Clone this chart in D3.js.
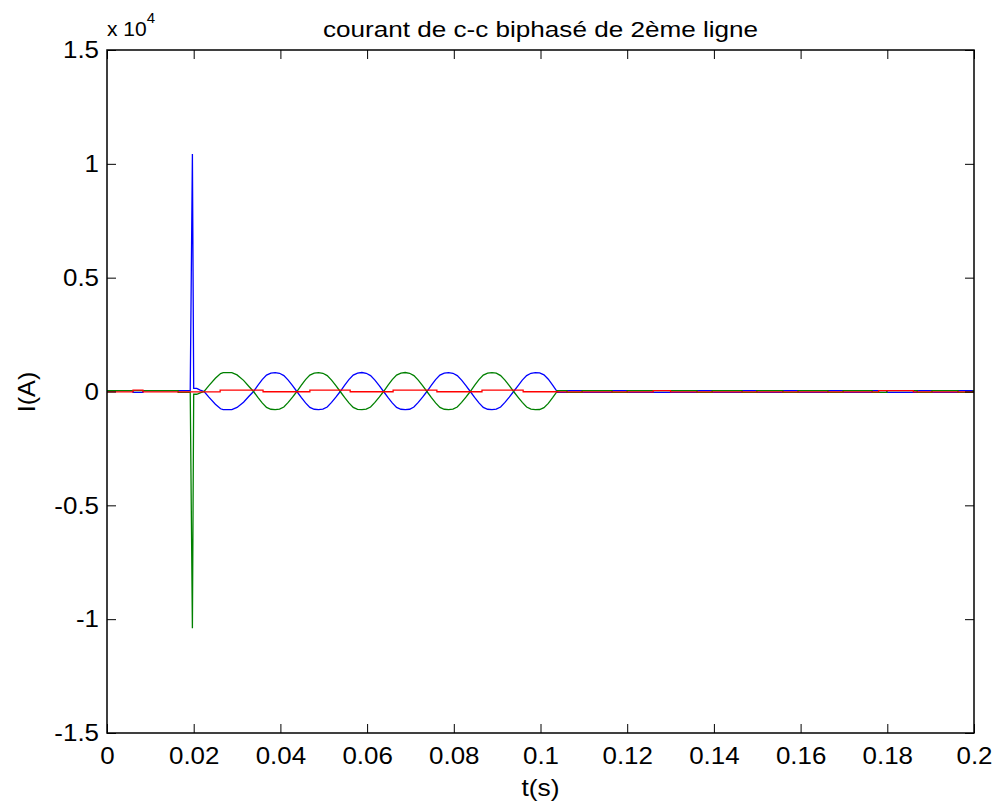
<!DOCTYPE html>
<html><head><meta charset="utf-8">
<script src="https://cdn.jsdelivr.net/npm/d3@7"></script>
<style>body{margin:0;background:#fff}svg{display:block}text{font-family:"Liberation Sans",Arial,sans-serif;fill:#000}</style>
</head><body><svg id="c" width="1001" height="807"></svg>
<script>
// ---- data (A, s) ----
const titleText = "courant de c-c biphasé de 2ème ligne";
const xTickValues = [0,0.02,0.04,0.06,0.08,0.1,0.12,0.14,0.16,0.18,0.2];
const xTickLabels = ["0","0.02","0.04","0.06","0.08","0.1","0.12","0.14","0.16","0.18","0.2"];
const yTickValues = [-15000,-10000,-5000,0,5000,10000,15000];
const yTickLabels = ["-1.5","-1","-0.5","0","0.5","1","1.5"];

// pre-fault, spike and first lobe (irregular samples)
const blueT = [0,0.0060,0.0060,0.0083,0.0083,0.0192,0.0197,0.0200,0.0207,0.0215,0.0224,0.0235,0.0250,0.0262,0.0268,0.0288,0.0300,0.0315,0.0328];
const blueV = [40,40,-35,-35,40,40,10430,140,140,60,0,-250,-560,-760,-800,-800,-700,-470,-200];
const greenT = [0,0.0164,0.0164,0.0192,0.0197,0.0200,0.0207,0.0215,0.0224,0.0235,0.0250,0.0262,0.0268,0.0288,0.0300,0.0315,0.0328];
const greenV = [40,40,-35,-35,-10400,-120,-120,-60,0,260,580,790,830,830,730,490,210];

// oscillation samples, every 1 ms from 0.0338 s
const oscStart = 0.0338, oscStep = 0.001;
const blueOsc = [0,270,520,720,810,830,800,700,500,260,
                 0,-260,-500,-700,-780,-800,-775,-680,-480,-250,
                 0,270,520,720,805,835,800,700,500,260,
                 0,-260,-500,-700,-780,-800,-780,-680,-480,-250,
                 0,270,520,720,810,830,800,700,500,260,
                 0,-260,-500,-700,-780,-800,-775,-680,-480,-250,
                 0,250,500,700,800,830,820,730,540,280,0];
const greenOsc = [0,-260,-500,-700,-780,-800,-775,-680,-480,-250,
                  0,270,520,720,810,830,800,700,500,260,
                  0,-260,-500,-700,-785,-800,-775,-680,-480,-250,
                  0,270,520,720,805,835,800,700,500,260,
                  0,-260,-500,-700,-780,-800,-775,-680,-480,-250,
                  0,270,520,720,805,830,805,700,500,260,
                  0,-245,-480,-680,-770,-800,-790,-710,-520,-270,0];

// post-fault steps
const blueStepT = [0.1038,0.1061,0.1096,0.1165,0.1200,0.1361,0.1396,0.1465,0.1499,0.1559,0.1594,0.1663,0.1698,0.1765,0.1799,0.1869,0.1903,0.1963,0.1998,0.2];
const blueStepV = [-35,40,-35,40,-35,40,-35,40,-35,40,-35,40,-35,40,-35,40,-35,40,-35,-35];
const greenStepT = [0.1038,0.1061,0.1096,0.1165,0.1200,0.1361,0.1396,0.1465,0.1499,0.1559,0.1594,0.1663,0.1698,0.1765,0.1799,0.1869,0.1903,0.1963,0.1998,0.2];
const greenStepV = [40,-35,40,-35,40,-35,40,-35,40,-35,40,-35,40,-35,40,-35,40,-35,40,40];

// red: small steps over the whole record
const redT = [0,0.0060,0.0083,0.0261,0.0360,0.0468,0.0561,0.0660,0.0761,0.0865,0.0960,0.1040,0.1260,0.1300,0.1780,0.1860,0.2];
const redV = [-20,60,-20,60,-10,60,-10,60,-10,60,-10,-20,40,-20,40,-20,-20];

// ---- layout ----
const L=107,R=974,T=50,B=733;
const svg=d3.select("#c");
const x=d3.scaleLinear().domain([0,0.2]).range([L,R]);
const y=d3.scaleLinear().domain([-15000,15000]).range([B,T]);

function build(t,v,oscV,st,sv){
  const pts=t.map((d,i)=>[d,v[i]]);
  oscV.forEach((d,i)=>pts.push([oscStart+i*oscStep,d]));
  for(let i=0;i<st.length;i++){
    if(i>0) pts.push([st[i],sv[i-1]]);
    pts.push([st[i],sv[i]]);
  }
  return pts;
}
const blue=build(blueT,blueV,blueOsc,blueStepT,blueStepV);
const green=build(greenT,greenV,greenOsc,greenStepT,greenStepV);
const red=[];
redT.forEach((d,i)=>{ if(i>0) red.push([d,redV[i-1]]); red.push([d,redV[i]]); });

svg.append("defs").append("clipPath").attr("id","clip").append("rect")
  .attr("x",L).attr("y",T).attr("width",R-L).attr("height",B-T);

const line=d3.line().x(d=>x(d[0])).y(d=>y(d[1]));
const g=svg.append("g").attr("clip-path","url(#clip)");
[[blue,"#0000ff"],[green,"#008000"],[red,"#ff0000"]].forEach(([d,c])=>{
  g.append("path").datum(d).attr("d",line).attr("fill","none").attr("stroke",c).attr("stroke-width",1.3);
});

function stretch(sel,f){
  sel.each(function(){
    const w=this.getComputedTextLength();
    d3.select(this).attr("textLength",w*f).attr("lengthAdjust","spacingAndGlyphs");
  });
}

const fs=24;
const ax=svg.append("g");
ax.append("g").attr("transform",`translate(0,${B})`)
  .call(d3.axisBottom(x).tickValues(xTickValues).tickFormat((d,i)=>xTickLabels[i]).tickSizeInner(-9).tickSizeOuter(0).tickPadding(14));
ax.append("g").attr("transform",`translate(0,${T})`)
  .call(d3.axisTop(x).tickValues(xTickValues).tickFormat("").tickSizeInner(-9).tickSizeOuter(0));
ax.append("g").attr("transform",`translate(${L},0)`)
  .call(d3.axisLeft(y).tickValues(yTickValues).tickFormat((d,i)=>yTickLabels[i]).tickSizeInner(-9).tickSizeOuter(0).tickPadding(8));
ax.append("g").attr("transform",`translate(${R},0)`)
  .call(d3.axisRight(y).tickValues(yTickValues).tickFormat("").tickSizeInner(-9).tickSizeOuter(0));
ax.selectAll(".domain").remove();
ax.selectAll(".tick line").attr("stroke","#000").attr("stroke-width",1);
ax.selectAll(".tick text").attr("font-size",fs).attr("font-family","Liberation Sans, Arial, sans-serif").attr("fill","#000");
stretch(ax.selectAll(".tick text"),1.08);
svg.append("rect").attr("x",L).attr("y",T).attr("width",R-L).attr("height",B-T)
  .attr("fill","none").attr("stroke","#000").attr("stroke-width",1.5);

const title=svg.append("text").attr("x",(L+R)/2).attr("y",37).attr("text-anchor","middle").attr("font-size",22).text(titleText);
title.attr("textLength",435).attr("lengthAdjust","spacingAndGlyphs");
const ex=svg.append("text").attr("x",L).attr("y",36).attr("font-size",21);
ex.append("tspan").text("x 10");
ex.append("tspan").attr("dy",-13).attr("font-size",15).text("4");
const xl=svg.append("text").attr("x",(L+R)/2).attr("y",796).attr("text-anchor","middle").attr("font-size",fs).text("t(s)");
stretch(xl,1.1);
const yl=svg.append("text").attr("transform","translate(35,392) rotate(-90)").attr("text-anchor","middle").attr("font-size",fs).text("I(A)");
stretch(yl,1.05);
</script></body></html>
